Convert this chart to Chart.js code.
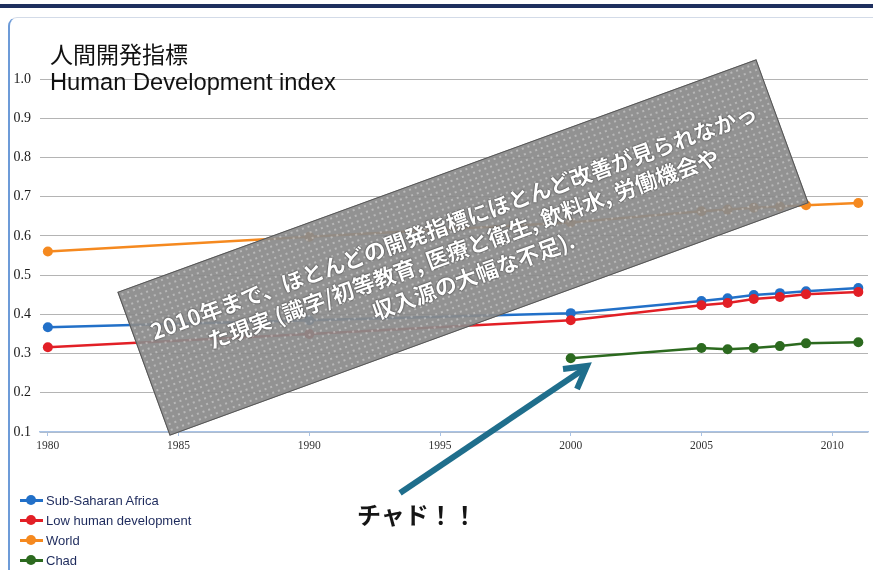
<!DOCTYPE html>
<html>
<head>
<meta charset="utf-8">
<script src="https://cdn.jsdelivr.net/npm/chart.js@4/dist/chart.umd.min.js"></script>
<style>
  html, body { margin: 0; padding: 0; background: #fff; }
  #wrap { position: relative; width: 873px; height: 570px; overflow: hidden; }
  #topbar { position: absolute; left: 0; top: 4px; width: 873px; height: 4px; background: #1e2f5e; }
  #frame { position: absolute; left: 8px; top: 17px; width: 900px; height: 600px;
    border-left: 2px solid #6d9bd8; border-top: 1px solid #d3dbe8; border-top-left-radius: 9px; }
  canvas { position: absolute; left: 0; top: 0; }
  .title { position: absolute; left: 50px; color: #111; white-space: nowrap; }
  #t1 { top: 36px; font: 23px "Noto Sans CJK JP", sans-serif; }
  #t2 { top: 69px; font: 23.7px "Liberation Sans", Arial, sans-serif; }
  #legend { position: absolute; left: 20px; top: 490px; }
  .item { height: 20px; display: flex; align-items: center;
    font: 13px "Liberation Sans", Arial, sans-serif; color: #1d2a5c; }
  .mk { position: relative; width: 23px; height: 3px; margin-right: 3px; }
  .mk i { position: absolute; left: 6px; top: -3.5px; width: 10px; height: 10px; border-radius: 50%; }
  #box { position: absolute; left: 123px; top: 171px; width: 680px; height: 153px;
    transform: rotate(-20deg); box-sizing: border-box; border: 1px solid #555;
    background-color: rgba(138,138,138,0.93);
    background-image: radial-gradient(rgba(255,255,255,0.35) 0.7px, transparent 1.2px);
    background-size: 6px 6px;
    display: flex; flex-direction: column; justify-content: center; align-items: center;
    color: #fff; font: bold 22px "Noto Sans CJK JP", sans-serif; line-height: 1.3;
    text-shadow: 0 0 2px #333, 0 0 1px #333; white-space: nowrap; }
  #chad { position: absolute; left: 357px; top: 496px; font: bold 24px "Noto Sans CJK JP", sans-serif; color: #151515; }
  svg { position: absolute; left: 0; top: 0; }
</style>
</head>
<body>
<div id="wrap">
  <div id="topbar"></div>
  <div id="frame"></div>
  <canvas id="c" width="873" height="570"></canvas>
  <div class="title" id="t1">人間開発指標</div>
  <div class="title" id="t2">Human Development index</div>
  <div id="box">
    <div>2010年まで、ほとんどの開発指標にほとんど改善が見られなかっ</div>
    <div>た現実 (識字/初等教育, 医療と衛生, 飲料水, 労働機会や</div>
    <div>収入源の大幅な不足).</div>
  </div>
  <svg width="873" height="570">
    <line x1="400" y1="493" x2="584" y2="369" stroke="#1f6e8c" stroke-width="6" />
    <polyline points="563,369 587,366 577,389" fill="none" stroke="#1f6e8c" stroke-width="6" stroke-linejoin="miter" />
  </svg>
  <div id="chad">チャド！！</div>
  <div id="legend"></div>
</div>
<script>
// Human Development Index values
const years = [1980, 1990, 2000, 2005, 2006, 2007, 2008, 2009, 2011];
const subSaharan = [0.367, 0.385, 0.403, 0.434, 0.441, 0.449, 0.454, 0.459, 0.467];
const lowHuman = [0.316, 0.350, 0.385, 0.423, 0.429, 0.439, 0.444, 0.451, 0.457];
const world = [0.560, 0.598, 0.634, 0.663, 0.667, 0.672, 0.675, 0.678, 0.684];
const chad = [null, null, 0.288, 0.314, 0.311, 0.314, 0.319, 0.326, 0.329];

const xTicks = [1980, 1985, 1990, 1995, 2000, 2005, 2010];
const yTicks = [0.1, 0.2, 0.3, 0.4, 0.5, 0.6, 0.7, 0.8, 0.9, 1.0];

const seriesNames = ['Sub-Saharan Africa', 'Low human development', 'World', 'Chad'];
const seriesColors = ['#2270c8', '#e21f26', '#f5891f', '#2c6a1f'];

function toPoints(vals) {
    return years.map((y, i) => ({ x: y, y: vals[i] })).filter(p => p.y !== null);
}

const allSeries = [subSaharan, lowHuman, world, chad];
// red sits on top of blue in the picture
const drawOrder = [3, 2, 4, 1];

const datasets = allSeries.map((vals, i) => ({
    label: seriesNames[i],
    data: toPoints(vals),
    borderColor: seriesColors[i],
    backgroundColor: seriesColors[i],
    borderWidth: 2.5,
    pointRadius: 5,
    pointBorderWidth: 0,
    tension: 0,
    order: drawOrder[i]
}));

new Chart(document.getElementById('c'), {
    type: 'line',
    data: { datasets: datasets },
    options: {
        responsive: false,
        animation: false,
        layout: { padding: { left: 0, right: 5, top: 79, bottom: 0 } },
        plugins: { legend: { display: false }, tooltip: { enabled: false } },
        scales: {
            x: {
                type: 'linear',
                min: 1979.7,
                max: 2011.37,
                afterBuildTicks: s => { s.ticks = xTicks.map(v => ({ value: v })); },
                afterFit: s => { s.height = 138; },
                grid: { drawOnChartArea: false, drawTicks: true, tickLength: 4, color: '#a9c3e6' },
                border: { color: '#a9c3e6', width: 1.5 },
                ticks: {
                    padding: 3,
                    maxRotation: 0,
                    color: '#333',
                    font: { family: '"Liberation Serif", serif', size: 11.5 },
                    callback: v => String(v)
                }
            },
            y: {
                min: 0.1,
                max: 1.0,
                afterBuildTicks: s => { s.ticks = yTicks.map(v => ({ value: v })); },
                afterFit: s => { s.width = 40; },
                grid: { drawTicks: false, color: '#b4b4b4', lineWidth: 1 },
                border: { display: false },
                ticks: {
                    padding: 9,
                    color: '#1a1a1a',
                    font: { family: '"Liberation Serif", serif', size: 14 },
                    callback: v => Number(v).toFixed(1)
                }
            }
        }
    }
});

// legend list at the bottom left
const legend = document.getElementById('legend');
seriesNames.forEach((name, i) => {
    const row = document.createElement('div');
    row.className = 'item';
    row.innerHTML = `<span class="mk" style="background:${seriesColors[i]}"><i style="background:${seriesColors[i]}"></i></span>${name}`;
    legend.appendChild(row);
});
</script>
</body>
</html>
